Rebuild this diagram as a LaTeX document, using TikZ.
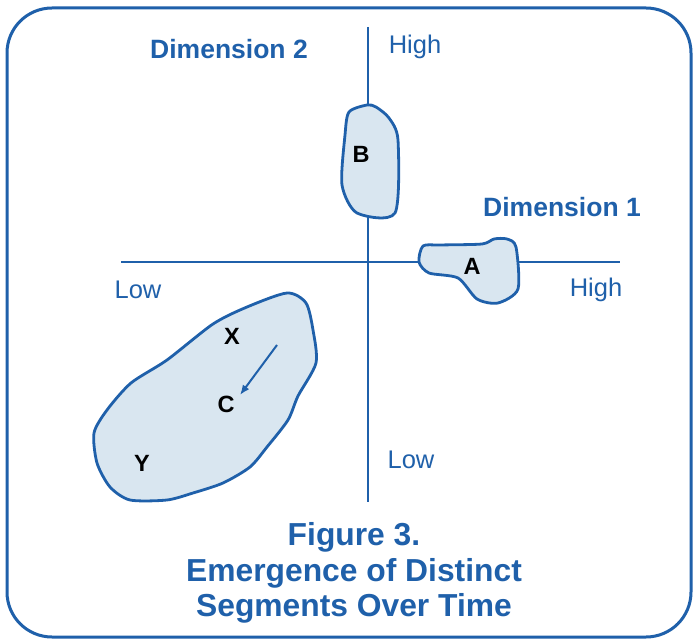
\documentclass[tikz,border=0pt]{standalone}
\usepackage{fontspec}
\setmainfont{Liberation Sans}
\usetikzlibrary{arrows.meta}
\definecolor{dblue}{RGB}{31,96,170}
\definecolor{lblue}{RGB}{217,230,240}
\tikzset{
  blob/.style={draw=dblue, fill=lblue, line width=2.8pt, line join=round},
  axis/.style={draw=dblue, line width=2pt},
  dimlbl/.style={text=dblue, font=\bfseries\fontsize{26.5}{30}\selectfont, inner sep=0pt},
  ticklbl/.style={text=dblue, font=\fontsize{25.5}{30}\selectfont, inner sep=0pt},
  seglbl/.style={text=black, font=\bfseries\fontsize{23.5}{28}\selectfont, inner sep=0pt},
  titlelbl/.style={text=dblue, font=\bfseries\fontsize{31.8}{35.5}\selectfont, align=center, inner sep=0pt}
}
\begin{document}
\begin{tikzpicture}[x=1pt,y=-1pt]
\useasboundingbox (0,0) rectangle (693,639);
\draw[dblue, line width=3pt, rounded corners=45pt] (7,8) rectangle (691,637);
% axes
\coordinate (hL) at (121,262);
\coordinate (hR) at (620,262);
\coordinate (vT) at (368,27);
\coordinate (vB) at (368,502);
\draw[axis] (hL) -- (hR);
\draw[axis] (vT) -- (vB);
% blob B
\draw[blob] plot[smooth cycle, tension=0.45] coordinates {(367,105) (349,112) (345,135) (342,185) (357,213) (395,213) (398,140) (389,118) (376,107)};
% blob A
\draw[blob] plot[smooth cycle, tension=0.45] coordinates {(423,246) (419,262) (429,273) (458,278) (477,299) (498,303) (518,289) (516,247) (507,239) (494,239) (482,244) (440,245)};
% blob C
\draw[blob] plot[smooth cycle, tension=0.45] coordinates {(287,293) (306,303) (313,330) (316,363) (298,396) (288,420) (267,447) (250,467) (223,483) (193,493) (167,500) (130,500) (110,487) (97,463) (94,433) (107,410) (131,383) (167,360) (213,324) (247,307)};
% arrow
\coordinate (arS) at (277,345);
\coordinate (arE) at (240,395);
\draw[dblue, line width=2pt, -{Latex[length=10pt,width=8pt]}] (arS) -- (arE);
% labels
\node[dimlbl] (d2) at (229,49) {Dimension 2};
\node[dimlbl] (d1) at (562,207) {Dimension 1};
\node[ticklbl] (hi2) at (415,47) {High};
\node[ticklbl] (lo1) at (138,290) {Low};
\node[ticklbl] (hi1) at (596,290) {High};
\node[ticklbl] (lo2) at (411,460) {Low};
\node[seglbl] (B) at (361,154) {B};
\node[seglbl] (A) at (472,266) {A};
\node[seglbl] (X) at (232,336) {X};
\node[seglbl] (C) at (226,404) {C};
\node[seglbl] (Y) at (142,463) {Y};
\node[titlelbl] (title) at (354,573) {Figure 3.\\Emergence of Distinct\\Segments Over Time};
\end{tikzpicture}
\end{document}
